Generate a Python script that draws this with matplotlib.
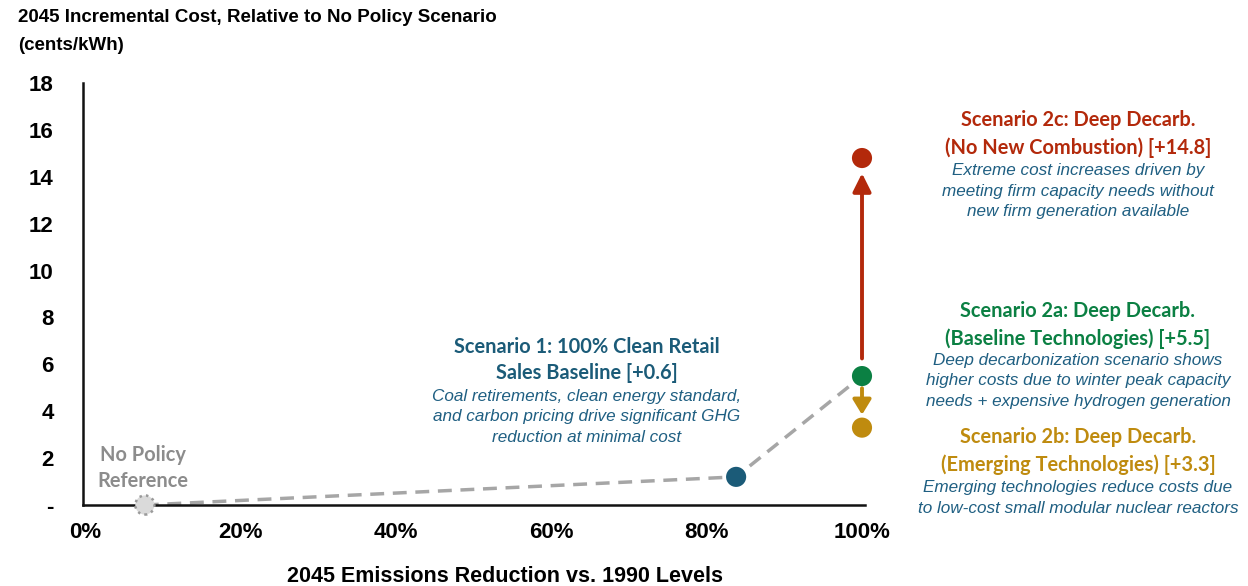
import matplotlib
matplotlib.use("Agg")
import matplotlib.pyplot as plt
from matplotlib.patches import FancyArrowPatch

# ---- data ----
scenarios = ["No Policy Reference", "Scenario 1", "Scenario 2a", "Scenario 2b", "Scenario 2c"]
emis_red = [7.7, 83.8, 100.0, 100.0, 100.0]     # % reduction vs 1990
cost = [0.0, 1.2, 5.5, 3.3, 14.8]               # cents/kWh
path_x = [7.7, 83.8, 100.0]
path_y = [0.0, 1.2, 5.5]
yticks = [0, 2, 4, 6, 8, 10, 12, 14, 16, 18]
ytick_labels = ["-", "2", "4", "6", "8", "10", "12", "14", "16", "18"]
xticks = [0, 20, 40, 60, 80, 100]
xtick_labels = ["0%", "20%", "40%", "60%", "80%", "100%"]

C_NAVY = "#1B5B78"
C_RED = "#B3290B"
C_GREEN = "#0B8043"
C_GOLD = "#BF8B0F"
C_GREY = "#8C8C8C"
DESC = "#1F5F82"

W, H = 1248, 586
fig = plt.figure(figsize=(W / 100, H / 100), dpi=100)
L, R, B, T = 85, 862, 505, 83
ax = fig.add_axes([L / W, 1 - B / H, (R - L) / W, (B - T) / H])
ax.set_xlim(0, 100)
ax.set_ylim(0, 18)
for s in ["top", "right"]:
    ax.spines[s].set_visible(False)
for s in ["left", "bottom"]:
    ax.spines[s].set_linewidth(1.8)
    ax.spines[s].set_color("#111111")
ax.spines["left"].set_position(("data", -0.3))
ax.spines["bottom"].set_bounds(-0.3, 100.4)

ax.set_yticks(yticks)
ax.set_yticklabels(ytick_labels, fontfamily="Liberation Sans", fontweight="bold", fontsize=16)
ax.set_xticks(xticks)
ax.set_xticklabels(xtick_labels, fontfamily="Liberation Sans", fontweight="bold", fontsize=16)
ax.tick_params(axis="y", length=0, pad=21)
ax.tick_params(axis="x", length=0, pad=12)
ax.set_xlabel("2045 Emissions Reduction vs. 1990 Levels", fontfamily="Liberation Sans",
              fontweight="bold", fontsize=15.5)
ax.xaxis.set_label_coords((505 - L) / (R - L), -(576 - B) / (B - T))
ax.xaxis.label.set_va("center")

# dashed path
ax.plot(path_x, path_y, ls=(0, (4, 2.5)), color="#A6A6A6", lw=2.5, zorder=2, clip_on=False)

# arrows
ax.add_patch(FancyArrowPatch((100, 6.25), (100, 14.15), arrowstyle="-|>,head_length=11,head_width=5.5",
                             color=C_RED, lw=2.8, mutation_scale=1, zorder=3, clip_on=False,
                             shrinkA=0, shrinkB=0))
ax.add_patch(FancyArrowPatch((100, 4.98), (100, 3.85), arrowstyle="-|>,head_length=9,head_width=5.5",
                             color=C_GOLD, lw=2.8, mutation_scale=1, zorder=3, clip_on=False,
                             shrinkA=0, shrinkB=0))

# points
ax.scatter([emis_red[0]], [cost[0]], s=190, facecolor="#DADADA", edgecolor="#9A9A9A",
           linestyle=":", linewidth=1.8, zorder=4, clip_on=False)
colors = [None, C_NAVY, C_GREEN, C_GOLD, C_RED]
for xv, yv, c in zip(emis_red[1:], cost[1:], colors[1:]):
    ax.scatter([xv], [yv], s=210, color=c, zorder=5, clip_on=False, edgecolor="none")

def ftxt(x, y, s, **kw):
    fig.text(x / W, 1 - y / H, s, **kw)

# title
ftxt(18, 18, "2045 Incremental Cost, Relative to No Policy Scenario", fontfamily="Liberation Sans",
     fontweight="bold", fontsize=13.5, va="center", ha="left")
ftxt(18, 46, "(cents/kWh)", fontfamily="Liberation Sans", fontweight="bold", fontsize=13.5,
     va="center", ha="left")

HEAD = dict(fontfamily="Lato", fontweight="bold", fontsize=14.4, ha="center", va="center",
            linespacing=1.42)
DESCK = dict(fontfamily="Liberation Sans", style="italic", fontsize=12.3, ha="center",
             va="center", color=DESC, linespacing=1.45)

ftxt(143, 468, "No Policy\nReference", color=C_GREY, **HEAD)

ftxt(587, 360, "Scenario 1: 100% Clean Retail\nSales Baseline [+0.6]", color=C_NAVY, **HEAD)
ftxt(587, 417, "Coal retirements, clean energy standard,\nand carbon pricing drive significant GHG\nreduction at minimal cost", **DESCK)

ftxt(1078, 134, "Scenario 2c: Deep Decarb.\n(No New Combustion) [+14.8]", color=C_RED, **HEAD)
ftxt(1078, 191, "Extreme cost increases driven by\nmeeting firm capacity needs without\nnew firm generation available", **DESCK)

ftxt(1078, 325, "Scenario 2a: Deep Decarb.\n(Baseline Technologies) [+5.5]", color=C_GREEN, **HEAD)
ftxt(1078, 381, "Deep decarbonization scenario shows\nhigher costs due to winter peak capacity\nneeds + expensive hydrogen generation", **DESCK)

ftxt(1078, 451, "Scenario 2b: Deep Decarb.\n(Emerging Technologies) [+3.3]", color=C_GOLD, **HEAD)
ftxt(1078, 498, "Emerging technologies reduce costs due\nto low-cost small modular nuclear reactors", **DESCK)

fig.savefig("out.png", dpi=100)
